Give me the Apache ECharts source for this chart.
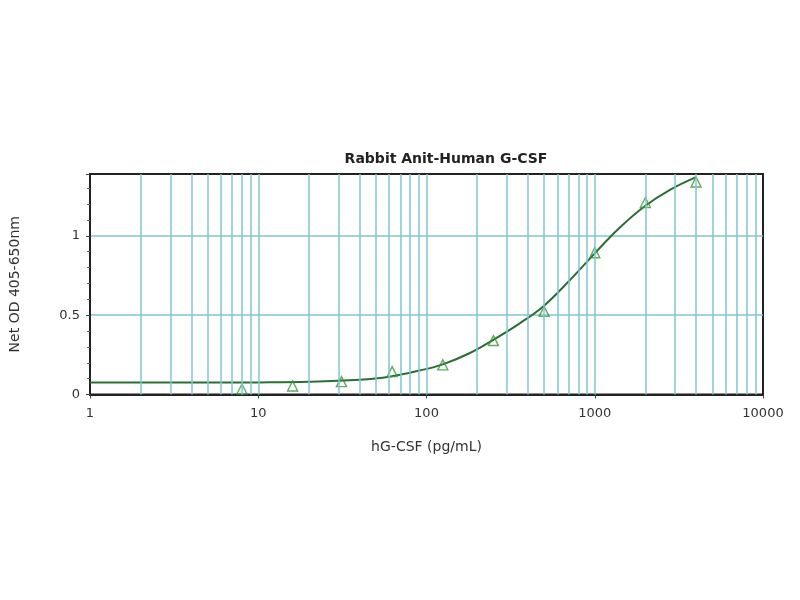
<!DOCTYPE html>
<html>
<head>
<meta charset="utf-8">
<script src="https://cdn.jsdelivr.net/npm/echarts@6/dist/echarts.min.js"></script>
<style>html,body{margin:0;padding:0;background:#fff}#c{width:800px;height:600px}</style>
</head>
<body>
<div id="c"></div>
<script>
// Measured standards (triangles)
const stdConc = [8, 16, 31.25, 62.5, 125, 250, 500, 1000, 2000, 4000];
const stdOD   = [0.035, 0.054, 0.081, 0.144, 0.187, 0.34, 0.524, 0.894, 1.21, 1.34];
// Fitted curve
const curveConc = [1, 5, 10, 20, 40, 60, 90, 125, 180, 250, 360, 500, 710, 1000, 1400, 2000, 2800, 4000];
const curveOD   = [0.075, 0.075, 0.076, 0.08, 0.093, 0.112, 0.15, 0.19, 0.26, 0.345, 0.45, 0.56, 0.72, 0.89, 1.05, 1.19, 1.29, 1.37];
// Axis ticks
const xTickLabels = ['1', '10', '100', '1000', '10000'];
const yTickLabels = ['0', '0.5', '1'];

const decades = [1, 10, 100, 1000];
const gridX = [];
decades.forEach(d => { for (let m = 2; m <= 9; m++) gridX.push(d * m); });
[10, 100, 1000].forEach(v => gridX.push(v));

const FONT = 'DejaVu Sans, Liberation Sans, Arial';
const chart = echarts.init(document.getElementById('c'));
chart.setOption({
  animation: false,
  backgroundColor: '#fff',
  title: {
    text: 'Rabbit Anit-Human G-CSF',
    left: 441, textAlign: 'center', top: 147,
    textStyle: { fontFamily: FONT, fontSize: 14, fontWeight: 'bold', color: '#222' }
  },
  grid: { left: 90, right: 37, top: 174, bottom: 205.5, show: true, borderColor: '#222', borderWidth: 2, backgroundColor: 'transparent' },
  xAxis: {
    type: 'log', logBase: 10, min: 1, max: 10000,
    name: 'hG-CSF (pg/mL)', nameLocation: 'middle', nameGap: 46,
    nameTextStyle: { fontFamily: FONT, fontSize: 14, color: '#333' },
    axisLine: { lineStyle: { color: '#222', width: 2 } },
    axisTick: { show: true, length: 4, lineStyle: { color: '#444' } },
    axisLabel: { fontFamily: FONT, fontSize: 13, color: '#333', margin: 13,
      formatter: v => { const s = String(Math.round(v)); return xTickLabels.includes(s) ? s : ''; } },
    splitLine: { show: false }
  },
  yAxis: {
    type: 'value', min: 0, max: 1.39, interval: 0.5,
    name: 'Net OD 405-650nm', nameLocation: 'middle', nameGap: 68, nameRotate: 90,
    nameTextStyle: { fontFamily: FONT, fontSize: 14, color: '#333' },
    axisLine: { show: true, lineStyle: { color: '#222', width: 2 } },
    axisTick: { show: true, length: 4, lineStyle: { color: '#444' } },
    minorTick: { show: true, splitNumber: 5, length: 3, lineStyle: { color: '#666' } },
    axisLabel: { fontFamily: FONT, fontSize: 13, color: '#333', margin: 10, showMaxLabel: false,
      formatter: v => { const s = String(Math.round(v * 10) / 10); return yTickLabels.includes(s) ? s : ''; } },
    splitLine: { show: true, showMaxLine: false, showMinLine: false, lineStyle: { color: '#7fc6d2', width: 1.5 } }
  },
  series: [
    {
      type: 'line', name: 'grid', data: [], silent: true,
      markLine: {
        silent: true, symbol: 'none', label: { show: false }, animation: false,
        lineStyle: { color: '#7fc6d2', width: 1.5, type: 'solid' },
        data: gridX.map(v => ({ xAxis: v }))
      }
    },
    {
      type: 'line', name: 'fit', smooth: 0.4, showSymbol: false, silent: true,
      data: curveConc.map((c, i) => [c, curveOD[i]]),
      lineStyle: { color: '#2b6e34', width: 2 }, z: 3
    },
    {
      type: 'scatter', name: 'std', symbol: 'triangle', symbolSize: 10,
      data: stdConc.map((c, i) => [c, stdOD[i]]),
      itemStyle: { color: 'rgba(255,255,255,0)', borderColor: '#3a963a', borderWidth: 1.4 }, z: 4
    }
  ]
});
</script>
</body>
</html>
